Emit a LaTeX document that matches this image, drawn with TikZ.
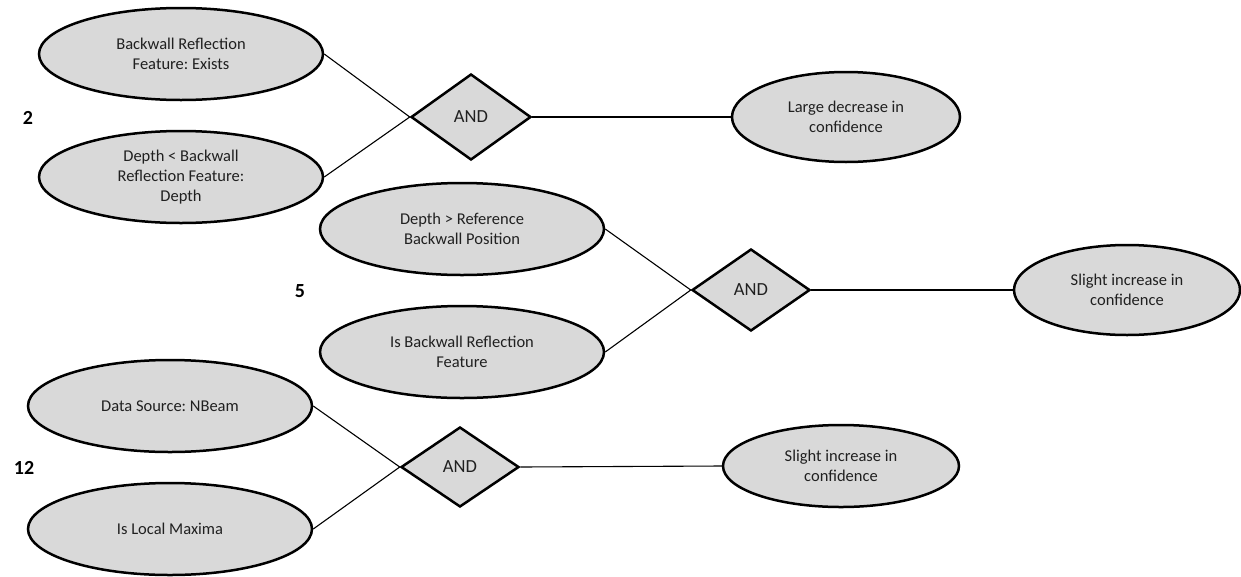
\documentclass[tikz,border=0pt]{standalone}
\usepackage{fontspec}
\setmainfont{Carlito}
\usetikzlibrary{shapes.geometric}
\definecolor{boxfill}{HTML}{D9D9D9}
\definecolor{txt}{HTML}{202020}
\frenchspacing
\begin{document}
\begin{tikzpicture}[x=1pt,y=-1pt,
  oval/.style={ellipse, draw=black, line width=2.5pt, fill=boxfill, inner sep=0pt, align=center, font=\frenchspacing\fontsize{16.5}{20}\selectfont, text=txt},
  inoval/.style={oval, minimum width=284pt, minimum height=92pt},
  gate/.style={diamond, draw=black, line width=2.5pt, fill=boxfill, inner sep=0pt, font=\fontsize{18.5}{22}\selectfont, text=txt},
  link/.style={line width=1.1pt, draw=black},
  num/.style={font=\fontsize{20}{24}\selectfont\bfseries, text=black}]
\useasboundingbox (0,0) rectangle (1241,576);
% group 2
\node[inoval] (e1) at (181,54) {Backwall Reflection\\Feature: Exists};
\node[inoval] (e2) at (181,177) {Depth < Backwall\\Reflection Feature:\\Depth};
\node[gate, minimum width=120pt, minimum height=86pt] (d1) at (471,117) {AND};
\node[oval, minimum width=228pt, minimum height=90pt] (r1) at (846,117) {Large decrease in\\confidence};
\node[num] (n2) at (28,118) {2};
% group 5
\node[inoval] (e3) at (462,229) {Depth > Reference\\Backwall Position};
\node[inoval] (e4) at (462,352) {Is Backwall Reflection\\Feature};
\node[gate, minimum width=118pt, minimum height=82pt] (d2) at (751,290) {AND};
\node[oval, minimum width=226pt, minimum height=90pt] (r2) at (1127,290) {Slight increase in\\confidence};
\node[num] (n5) at (300,291) {5};
% group 12
\node[inoval] (e5) at (170,406) {Data Source: NBeam};
\node[inoval] (e6) at (170,529) {Is Local Maxima};
\node[gate, minimum width=118pt, minimum height=80pt] (d3) at (460,467) {AND};
\node[oval, minimum width=236pt, minimum height=82pt] (r3) at (841,466) {Slight increase in\\confidence};
\node[num] (n12) at (24,468) {12};
% connectors
\draw[link] (e1.east) -- (d1.west);
\draw[link] (e2.east) -- (d1.west);
\draw[link] (d1.east) -- (r1.west);
\draw[link] (e3.east) -- (d2.west);
\draw[link] (e4.east) -- (d2.west);
\draw[link] (d2.east) -- (r2.west);
\draw[link] (e5.east) -- (d3.west);
\draw[link] (e6.east) -- (d3.west);
\draw[link] (d3.east) -- (r3.west);
\end{tikzpicture}
\end{document}
